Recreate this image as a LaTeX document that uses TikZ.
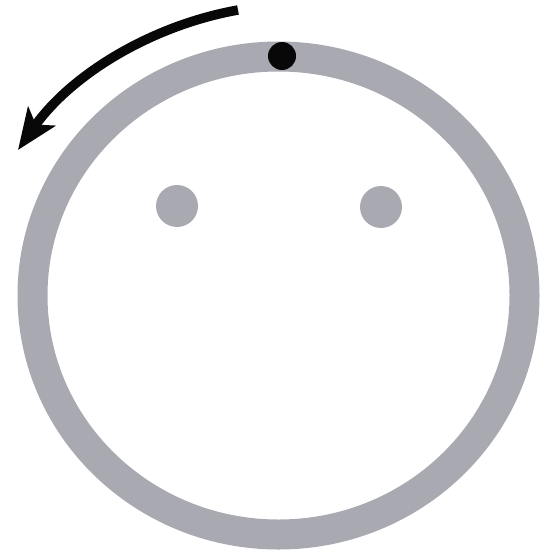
\documentclass[tikz,border=0pt]{standalone}
\usetikzlibrary{arrows.meta}
\definecolor{cring}{HTML}{A9A9B2}
\definecolor{cink}{HTML}{080808}
\tikzset{
  every picture/.style={line width=1.2pt},
  ring/.style={draw=cring, line width=30pt},
  eye/.style={circle, fill=cring, minimum size=42pt, inner sep=0pt},
  marker/.style={circle, fill=cink, minimum size=28pt, inner sep=0pt},
  turn/.style={-{Stealth[length=41pt, width=33pt, inset=10pt]}, draw=cink, line width=9.5pt},
}
\begin{document}
\begin{tikzpicture}[x=1pt, y=-1pt]
  \useasboundingbox (0,0) rectangle (542,551);
  % face
  \coordinate (centre) at (278.5,295.5);
  \draw[ring] (centre) ellipse [x radius=246, y radius=239];
  \node[eye] (lefteye) at (177,206) {};
  \node[eye] (righteye) at (381,207) {};
  \node[marker] (dot) at (282,56) {};
  % direction of turning
  \coordinate (tail) at (238,10);
  \coordinate (tip) at (18,150);
  \draw[turn] (tail) .. controls (149,26) and (70,76) .. (tip);
\end{tikzpicture}
\end{document}
